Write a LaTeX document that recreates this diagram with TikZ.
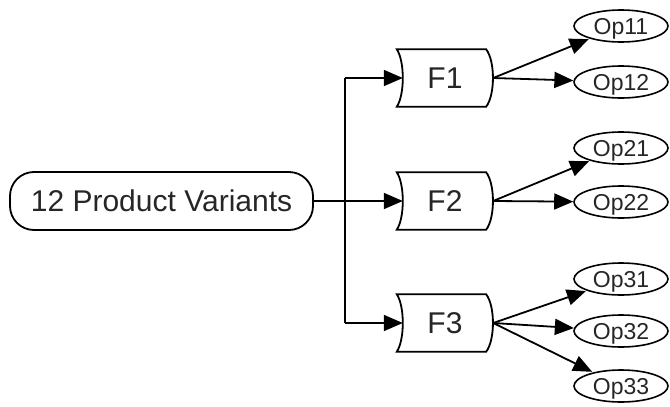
\documentclass[tikz,border=0pt]{standalone}
\usepackage{fontspec}
\setmainfont{Liberation Sans}
\usetikzlibrary{arrows.meta,calc,shapes.geometric}
\begin{document}
\begin{tikzpicture}[x=1pt,y=-1pt,
  every node/.style={font=\fontsize{30}{31}\selectfont, text=black!85},
  line/.style={line width=1.8pt},
  arr/.style={line width=1.8pt,-{Triangle[length=19pt,width=16pt]}},
  prod/.style={draw,line width=1.8pt,rounded corners=24pt,minimum width=303pt,minimum height=58pt,inner sep=0pt},
  fbox/.style={minimum width=96pt,minimum height=57pt,inner sep=0pt},
  opn/.style={ellipse,line width=1.6pt,minimum width=94pt,minimum height=32pt,inner sep=0pt,text height=20pt,text depth=4pt,font=\fontsize{23}{23}\selectfont},
  ering/.style={line width=1.6pt}]
\useasboundingbox (0,0) rectangle (670,407);
\node[prod] (P) at (161.5,201) {12 Product Variants};
\node[fbox] (F1) at (445,78) {F1};
\node[fbox] (F2) at (445,201) {F2};
\node[fbox] (F3) at (445,323) {F3};
\foreach \f in {F1,F2,F3}{
  \draw[line] (\f.north west) .. controls +(8,12) and +(8,-12) .. (\f.south west)
     -- ($(\f.south east)+(-7,0)$) .. controls +(9,-12) and +(9,12) .. ($(\f.north east)+(-7,0)$) -- cycle;
}
\node[opn] (O11) at (621,26) {Op11};
\node[opn] (O12) at (621,82) {Op12};
\node[opn] (O21) at (621,148) {Op21};
\node[opn] (O22) at (621,202) {Op22};
\node[opn] (O31) at (621,279) {Op31};
\node[opn] (O32) at (621,331) {Op32};
\node[opn] (O33) at (621,386) {Op33};
\foreach \o in {O11,O12,O21,O22,O31,O32,O33}{
  \draw[ering] (\o.center) ellipse [x radius=47pt, y radius=16pt];
}
\coordinate (t1) at (345,78);
\coordinate (t3) at (345,323);
\draw[line] (t1) -- (t3);
\draw[arr] (P.east) -- ($(F2.west)+(6,0)$);
\draw[arr] (t1) -- ($(F1.west)+(6,0)$);
\draw[arr] (t3) -- ($(F3.west)+(6,0)$);
\draw[arr] (F1.east) -- (O11);
\draw[arr] (F1.east) -- (O12);
\draw[arr] (F2.east) -- (O21);
\draw[arr] (F2.east) -- (O22);
\draw[arr] (F3.east) -- (O31);
\draw[arr] (F3.east) -- (O32);
\draw[arr] (F3.east) -- (O33);
\end{tikzpicture}
\end{document}
